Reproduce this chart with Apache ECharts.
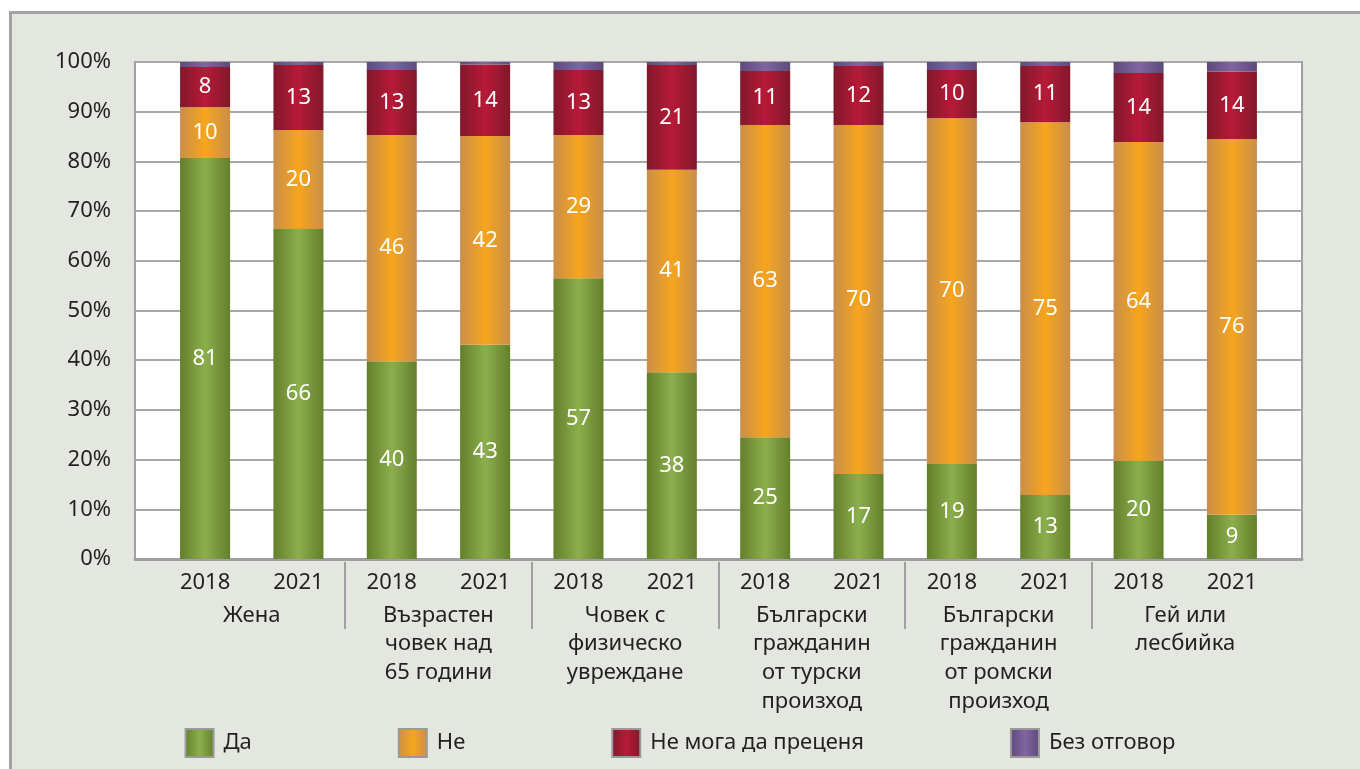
<!DOCTYPE html>
<html>
<head>
<meta charset="utf-8">
<script src="https://cdn.jsdelivr.net/npm/echarts@6/dist/echarts.min.js"></script>
<style>
  html, body { margin: 0; padding: 0; background: #fff; }
  #chart { width: 1360px; height: 769px; }
</style>
</head>
<body>
<div id="chart"></div>
<script>
// data (labels show rounded values)
const years = ['2018', '2021', '2018', '2021', '2018', '2021', '2018', '2021', '2018', '2021', '2018', '2021'];
const groups = [
  'Жена',
  'Възрастен\nчовек над\n65 години',
  'Човек с\nфизическо\nувреждане',
  'Български\nгражданин\nот турски\nпроизход',
  'Български\nгражданин\nот ромски\nпроизход',
  'Гей или\nлесбийка'
];
const yes      = [80.7, 66.4, 39.8, 43.1, 56.5, 37.6, 24.5, 17.1, 19.1, 12.9, 19.7, 8.9];
const no       = [10.2, 19.9, 45.5, 42.0, 28.8, 40.7, 62.8, 70.2, 69.6, 75.0, 64.2, 75.6];
const cantSay  = [8.1, 13.1, 13.1, 14.4, 13.1, 21.1, 10.9, 11.9, 9.7, 11.3, 13.9, 13.6];
const noAnswer = [1.0, 0.6, 1.6, 0.5, 1.6, 0.6, 1.8, 0.8, 1.6, 0.8, 2.2, 1.9];
const seriesNames = ['Да', 'Не', 'Не мога да преценя', 'Без отговор'];

const FONT = 'Noto Sans';
const TXT = '#231f20';

// plot area (background grid) and the narrower grid the bars sit in
const W = 1360, H = 769;
const plotL = 135, plotR = 1302, plotT = 62, plotB = 559;
const pad = 23.4;
const barL = plotL + pad, barR = plotR - pad;
const catW = (barR - barL) / years.length;

function grad(edge, mid) {
  return new echarts.graphic.LinearGradient(0, 0, 1, 0, [
    { offset: 0, color: edge },
    { offset: 0.5, color: mid },
    { offset: 1, color: edge }
  ]);
}
const colors = [
  grad('#637f2b', '#8caf4d'),
  grad('#c98e4a', '#f7a51d'),
  grad('#81182a', '#b71a37'),
  grad('#5d4a7b', '#8065a2')
];

function barSeries(name, data, i, showLabel) {
  return {
    name: name,
    type: 'bar',
    stack: 'all',
    xAxisIndex: 1,
    yAxisIndex: 1,
    barWidth: 50,
    data: data,
    itemStyle: { color: colors[i] },
    label: {
      show: showLabel,
      position: 'inside',
      color: '#fff',
      fontFamily: FONT,
      fontSize: 22,
      formatter: p => Math.round(p.value)
    },
    emphasis: { disabled: true }
  };
}

const chart = echarts.init(document.getElementById('chart'));
chart.setOption({
  animation: false,
  backgroundColor: '#fff',
  graphic: [{
    type: 'rect',
    z: -10,
    shape: { x: 10.5, y: 12.5, width: 1400, height: 800 },
    style: { fill: '#e4e7df', stroke: '#a3a3a3', lineWidth: 3 }
  }],
  grid: [
    { left: plotL, right: W - plotR, top: plotT, bottom: H - plotB, show: true,
      backgroundColor: '#fff', borderColor: '#a0a0a0', borderWidth: 2 },
    { left: barL, right: W - barR, top: plotT, bottom: H - plotB },
    // separators between groups, below the plot
    { left: barL + 2 * catW, right: W - (barL + 10 * catW), top: 562, height: 67 }
  ],
  xAxis: [
    { gridIndex: 0, type: 'value', min: 0, max: 1,
      axisLine: { show: true, lineStyle: { color: '#a0a0a0', width: 3 } },
      axisTick: { show: false }, axisLabel: { show: false }, splitLine: { show: false } },
    { gridIndex: 1, type: 'category', data: years, position: 'bottom',
      axisLine: { show: false }, axisTick: { show: false },
      axisLabel: { color: TXT, fontFamily: FONT, fontSize: 22, margin: 9, lineHeight: 29 } },
    { gridIndex: 1, type: 'category', data: groups, position: 'bottom',
      axisLine: { show: false }, axisTick: { show: false },
      axisLabel: { color: TXT, fontFamily: FONT, fontSize: 22, margin: 42, lineHeight: 28.7,
        verticalAlign: 'top', interval: 0 } },
    { gridIndex: 2, type: 'value', min: 0, max: 4, interval: 1,
      axisLine: { show: false }, axisTick: { show: false }, axisLabel: { show: false },
      splitLine: { show: true, lineStyle: { color: '#a0a0a0', width: 2 } } }
  ],
  yAxis: [
    { gridIndex: 0, type: 'value', min: 0, max: 100, interval: 10,
      axisLine: { show: false }, axisTick: { show: false },
      axisLabel: { color: TXT, fontFamily: FONT, fontSize: 22, margin: 24, formatter: '{value}%' },
      splitLine: { show: true, lineStyle: { color: '#a8a8a8', width: 2 } } },
    { gridIndex: 1, type: 'value', min: 0, max: 100, show: false },
    { gridIndex: 2, type: 'value', show: false }
  ],
  legend: {
    top: 723,
    left: 'center',
    icon: 'rect',
    itemWidth: 28,
    itemHeight: 28,
    itemGap: 146,
    itemStyle: { borderColor: '#9a9a9a', borderWidth: 2 },
    textStyle: { color: TXT, fontFamily: FONT, fontSize: 22, padding: [0, 0, 0, 5] },
    data: seriesNames
  },
  series: [
    barSeries(seriesNames[0], yes, 0, true),
    barSeries(seriesNames[1], no, 1, true),
    barSeries(seriesNames[2], cantSay, 2, true),
    barSeries(seriesNames[3], noAnswer, 3, false)
  ]
});
</script>
</body>
</html>
